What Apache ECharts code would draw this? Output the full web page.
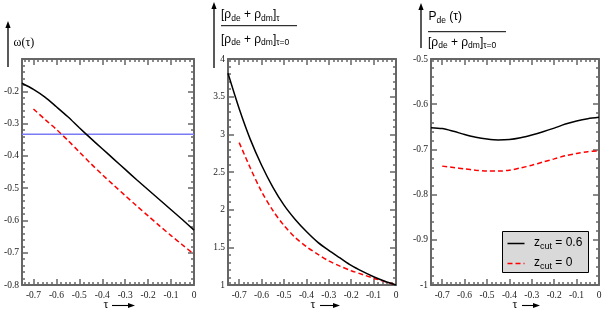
<!DOCTYPE html>
<html><head><meta charset="utf-8">
<script src="https://cdn.jsdelivr.net/npm/echarts@6/dist/echarts.min.js"></script>
<style>html,body{margin:0;padding:0;background:#fff}#c{width:603px;height:310px}</style>
</head><body><div id="c"></div>
<script>
// ---- data ----
const tauBlack = [-0.75,-0.7,-0.65,-0.6,-0.55,-0.5,-0.45,-0.4,-0.35,-0.3,-0.25,-0.2,-0.15,-0.1,-0.05,0];
const tauRed   = [-0.7,-0.65,-0.6,-0.55,-0.5,-0.45,-0.4,-0.35,-0.3,-0.25,-0.2,-0.15,-0.1,-0.05,0];
// panel 1: omega(tau)
const wBlack = [-0.175,-0.194,-0.218,-0.248,-0.279,-0.313,-0.346,-0.378,-0.410,-0.442,-0.474,-0.505,-0.536,-0.567,-0.598,-0.630];
const wRed   = [-0.255,-0.287,-0.318,-0.352,-0.388,-0.424,-0.458,-0.491,-0.523,-0.555,-0.586,-0.617,-0.647,-0.676,-0.705];
const wRef   = -1/3;
// panel 2: density ratio
const rhoBlack = [3.81,3.34,2.93,2.59,2.30,2.06,1.87,1.71,1.57,1.46,1.36,1.26,1.18,1.11,1.05,1.0];
const rhoRed   = [2.89,2.55,2.24,1.99,1.79,1.63,1.51,1.41,1.32,1.25,1.19,1.14,1.09,1.045,1.0];
// panel 3: pressure ratio
const pBlack = [-0.652,-0.654,-0.660,-0.667,-0.673,-0.677,-0.679,-0.678,-0.674,-0.668,-0.661,-0.653,-0.644,-0.637,-0.632,-0.629];
const pRed   = [-0.737,-0.740,-0.743,-0.746,-0.748,-0.748,-0.746,-0.741,-0.735,-0.728,-0.721,-0.714,-0.709,-0.705,-0.703];
// tick labels and legend labels
const xTicks = [-0.7,-0.6,-0.5,-0.4,-0.3,-0.2,-0.1,0];
const legendLabels = ['0.6', '0'];

// ---- chart ----
const xMinor = [];
for (let i = -74; i <= 0; i += 2) { if (i % 10 !== 0) xMinor.push(i/100); }
const AX = '#666';
const grids = [
  {left:22, top:59, width:172, height:226},
  {left:228, top:59, width:168, height:226},
  {left:431, top:59, width:168, height:226}
];
const fmt = v => String(Number(v.toFixed(3)));
const labelStyle = {color:'#222', fontFamily:'Liberation Serif', fontSize:9.5};

let xAxis = [], yAxis = [];
grids.forEach((g, gi) => {
  const base = {type:'value', gridIndex:gi, min:-0.75, max:0, splitLine:{show:false}};
  ['bottom','top'].forEach(pos => {
    xAxis.push(Object.assign({}, base, {position:pos,
      axisLine:{show:true, onZero:false, lineStyle:{color:AX, width:2}},
      axisTick:{show:true, inside:true, length:6, customValues:xTicks, lineStyle:{color:AX, width:1.5}},
      axisLabel: pos === 'bottom' ? Object.assign({show:true, customValues:xTicks, margin:5, formatter:fmt}, labelStyle) : {show:false}
    }));
    xAxis.push(Object.assign({}, base, {position:pos,
      axisLine:{show:false, onZero:false},
      axisTick:{show:true, inside:true, length:3, customValues:xMinor, lineStyle:{color:AX, width:1.5}},
      axisLabel:{show:false}
    }));
  });
});
const yCfg = [
  {min:-0.8, max:-0.1, interval:0.1, hide:-0.1},
  {min:1, max:4, interval:0.5, hide:null},
  {min:-1, max:-0.5, interval:0.1, hide:null}
];
yCfg.forEach((c, gi) => {
  ['left','right'].forEach(pos => {
    yAxis.push({type:'value', gridIndex:gi, min:c.min, max:c.max, interval:c.interval, position:pos,
      splitLine:{show:false},
      axisLine:{show:true, onZero:false, lineStyle:{color:AX, width:2}},
      axisTick:{show:true, inside:true, length:6, lineStyle:{color:AX, width:1.5}},
      minorTick:{show:true, splitNumber:5, length:3, lineStyle:{color:AX, width:1.5}},
      axisLabel: pos === 'left' ? Object.assign({show:true, margin:3, showMinLabel:true, showMaxLabel:true,
        formatter: v => (c.hide !== null && Math.abs(v - c.hide) < 1e-6) ? '' : fmt(v)}, labelStyle) : {show:false}
    });
  });
});

function ser(gi, xs, ys, dashed) {
  const color = dashed ? '#ff0000' : '#000000';
  return {type:'line', name: dashed ? 'z_cut = 0' : 'z_cut = 0.6', xAxisIndex:4*gi, yAxisIndex:2*gi,
    data: xs.map((x, i) => [x, ys[i]]), symbol:'none', smooth:0.3, silent:true,
    lineStyle:{color:color, width:1.5, type: dashed ? [5,3] : 'solid'}, itemStyle:{color:color}, z: dashed ? 3 : 4};
}
const series = [
  {type:'line', name:'ref', xAxisIndex:0, yAxisIndex:0, data:[[tauBlack[0], wRef],[tauBlack[tauBlack.length-1], wRef]],
    symbol:'none', silent:true, lineStyle:{color:'#7b7bf5', width:1.5}, itemStyle:{color:'#7b7bf5'}, z:2},
  ser(0, tauBlack, wBlack, false), ser(0, tauRed, wRed, true),
  ser(1, tauBlack, rhoBlack, false), ser(1, tauRed, rhoRed, true),
  ser(2, tauBlack, pBlack, false), ser(2, tauRed, pRed, true)
];

const sansRich = {
  m:{fontSize:12, lineHeight:16, fontFamily:'Liberation Sans', fill:'#000'},
  s:{fontSize:8.5, lineHeight:9, verticalAlign:'bottom', fontFamily:'Liberation Sans', fill:'#000'}
};
const legRich = {
  m:{fontSize:12, lineHeight:16, fontFamily:'Liberation Sans', fill:'#000'},
  s:{fontSize:9, lineHeight:9, verticalAlign:'bottom', fontFamily:'Liberation Sans', fill:'#000'}
};
function rtext(x, y, text, rich) {
  return {type:'text', x:x, y:y, silent:true, z:20, style:{text:text, rich:rich || sansRich, fill:'#000', align:'left', verticalAlign:'middle'}};
}
function vArrow(x, yBottom, yTop) {
  return [
    {type:'line', silent:true, shape:{x1:x, y1:yBottom, x2:x, y2:yTop+5}, style:{stroke:'#000', lineWidth:1.3}},
    {type:'polygon', silent:true, shape:{points:[[x-2.6, yTop+7],[x, yTop],[x+2.6, yTop+7]]}, style:{fill:'#000'}}
  ];
}
function hArrow(x0, x1, y) {
  return [
    {type:'line', silent:true, shape:{x1:x0, y1:y, x2:x1-5, y2:y}, style:{stroke:'#000', lineWidth:1.1}},
    {type:'polygon', silent:true, shape:{points:[[x1-7, y-2.6],[x1, y],[x1-7, y+2.6]]}, style:{fill:'#000'}}
  ];
}
function tau(x, y) {
  return {type:'text', x:x, y:y, silent:true, style:{text:'τ', fill:'#000', font:'12px "Liberation Serif"', align:'center', verticalAlign:'middle'}};
}
const graphic = [].concat(
  vArrow(8, 67, 21),
  [{type:'text', x:13.5, y:43, silent:true, style:{text:'ω(τ)', fill:'#000', font:'12px "Liberation Serif"', align:'left', verticalAlign:'middle'}}],
  vArrow(214, 68, 2),
  [rtext(221, 15, '{m|[ρ}{s|de}{m| + ρ}{s|dm}{m|]}{s|τ}'),
   {type:'line', silent:true, shape:{x1:221, y1:25.7, x2:297, y2:25.7}, style:{stroke:'#000', lineWidth:1}},
   rtext(221, 39.5, '{m|[ρ}{s|de}{m| + ρ}{s|dm}{m|]}{s|τ=0}')],
  vArrow(421, 48, 3),
  [rtext(428.5, 17, '{m|P}{s|de}{m| (τ)}'),
   {type:'line', silent:true, shape:{x1:428, y1:31.7, x2:506, y2:31.7}, style:{stroke:'#000', lineWidth:1}},
   rtext(428, 42.5, '{m|[ρ}{s|de}{m| + ρ}{s|dm}{m|]}{s|τ=0}')],
  [tau(106, 304.5)], hArrow(112, 135, 305.5),
  [tau(313, 304.5)], hArrow(320, 340, 305.5),
  [tau(515, 304.5)], hArrow(522, 540, 305.5),
  // legend box
  [{type:'rect', silent:true, z:10, shape:{x:502.5, y:231.5, width:86, height:41}, style:{fill:'#d9d9d9', stroke:'#000', lineWidth:1}},
   {type:'line', silent:true, z:11, shape:{x1:507.5, y1:243.5, x2:524.5, y2:243.5}, style:{stroke:'#000', lineWidth:1.5}},
   {type:'line', silent:true, z:11, shape:{x1:507.5, y1:263.5, x2:524.5, y2:263.5}, style:{stroke:'#ff0000', lineWidth:1.5, lineDash:[5,3]}},
   rtext(534, 243, '{m|z}{s|cut}{m| = ' + legendLabels[0] + '}', legRich),
   rtext(534, 263, '{m|z}{s|cut}{m| = ' + legendLabels[1] + '}', legRich)]
);

const chart = echarts.init(document.getElementById('c'), null, {renderer:'canvas'});
chart.setOption({
  animation:false,
  backgroundColor:'#fff',
  grid: grids.map(g => Object.assign({outerBoundsMode:'none', containLabel:false}, g)),
  xAxis: xAxis, yAxis: yAxis, series: series, graphic: graphic
});
</script></body></html>
